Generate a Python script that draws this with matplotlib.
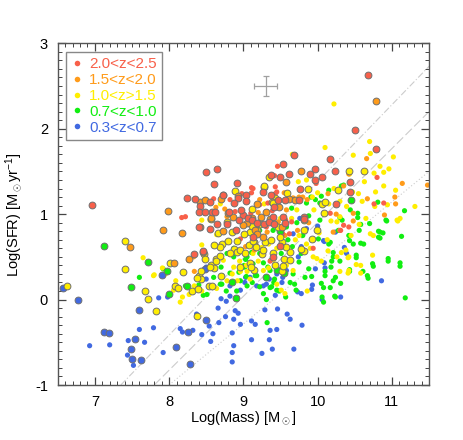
import matplotlib
matplotlib.use("Agg")
import matplotlib.pyplot as plt
from matplotlib.ticker import MultipleLocator
from matplotlib.lines import Line2D

plt.rcParams["font.family"] = ["Liberation Sans", "DejaVu Sans"]
plt.rcParams["mathtext.fontset"] = "custom"
plt.rcParams["mathtext.rm"] = "Liberation Sans"
plt.rcParams["mathtext.it"] = "Liberation Sans:italic"
plt.rcParams["axes.unicode_minus"] = False

# (log mass, log SFR); "ring" = points drawn with a grey outline
red_ring = [(6.96, 1.11), (10.68, 2.63), (10.51, 1.98), (10.78, 1.76), (8.50, 1.49), (8.64, 1.53),
            (8.60, 1.35), (8.91, 1.36), (9.04, 1.23), (9.04, 1.15), (8.58, 1.03), (8.35, 1.18),
            (8.24, 1.19), (8.55, 1.14), (9.00, 0.99), (9.37, 1.46), (9.54, 1.59), (9.61, 1.47),
            (9.37, 1.23), (9.49, 1.43), (9.96, 1.53), (9.90, 1.47), (9.96, 1.40), (10.06, 1.44),
            (10.24, 1.51), (8.41, 1.09), (8.73, 1.22), (8.93, 1.19), (8.87, 1.13), (8.97, 1.05),
            (8.40, 1.02), (8.49, 1.02), (8.62, 1.03), (8.81, 1.02), (8.94, 0.93), (9.06, 0.95),
            (9.12, 0.93), (8.40, 0.85), (8.55, 0.83), (8.65, 0.88), (8.78, 0.89), (8.90, 0.81),
            (9.27, 1.26), (9.47, 1.16), (9.56, 1.16), (9.41, 1.08), (9.53, 0.97), (9.40, 0.97),
            (9.56, 0.90), (9.76, 1.29), (9.75, 1.16), (9.82, 0.97), (9.81, 0.94), (10.43, 1.38),
            (10.44, 1.26), (10.25, 1.12), (8.34, 0.53), (8.45, 0.57), (9.13, 0.73), (9.40, 0.50),
            (9.68, 1.69), (9.18, 0.90), (9.28, 0.89), (9.35, 0.91), (9.41, 0.88), (9.50, 0.63),
            (10.16, 1.65)]
red_dot = [(8.17, 0.96), (8.22, 0.97), (9.13, 1.30), (9.42, 1.45), (9.46, 1.56), (9.43, 1.32),
           (9.43, 1.24), (9.11, 1.31), (9.11, 1.25), (8.82, 1.17), (8.48, 1.01), (8.60, 1.18),
           (8.89, 1.03), (9.45, 1.26), (9.39, 1.04), (9.22, 1.11), (9.33, 1.13), (9.05, 1.14),
           (8.98, 1.24), (9.10, 1.01), (9.65, 0.91), (9.62, 0.77), (9.94, 0.60), (10.80, 1.43),
           (10.76, 1.12), (10.89, 1.13), (10.31, 0.81), (10.42, 0.85), (10.35, 0.87), (9.31, 0.85),
           (9.53, 0.77), (9.98, 1.36), (10.09, 1.01), (10.17, 1.01), (8.96, 0.71), (9.09, 0.90),
           (9.36, 0.45), (9.57, 0.93)]

orange_ring = [(10.78, 2.33), (7.92, 0.82), (7.98, 1.04), (8.17, 0.78), (7.47, 0.61), (8.46, 0.56),
               (9.77, 1.51), (9.58, 1.38), (8.41, 1.14), (8.49, 1.16), (8.73, 1.23), (8.70, 1.18),
               (8.93, 1.21), (8.80, 1.01), (8.56, 0.96), (8.41, 0.85), (9.18, 1.12), (9.36, 0.94),
               (9.24, 0.97), (9.11, 0.96), (9.05, 0.90), (9.16, 0.82), (9.19, 0.77), (9.26, 0.73),
               (9.52, 0.85), (8.27, 0.47), (8.06, 0.43), (8.72, 0.80), (9.48, 1.08), (9.62, 1.18),
               (9.70, 1.17), (9.30, 1.02), (9.00, 0.87), (8.86, 0.97)]
orange_dot = [(10.66, 1.65), (10.67, 1.18), (11.04, 1.20), (11.05, 1.12), (11.14, 1.36), (11.48, 1.34),
              (10.90, 0.99), (10.21, 0.79), (10.48, 1.01), (10.30, 0.81), (10.48, 0.92), (8.75, 1.06),
              (8.63, 1.08), (8.98, 1.03), (9.22, 1.17), (9.48, 1.17), (9.55, 1.25), (9.47, 0.91),
              (9.32, 0.79), (9.56, 0.75), (8.34, 0.33), (8.33, 0.50), (9.73, 0.81), (9.67, 1.19),
              (9.80, 1.20), (9.86, 1.17), (9.75, 1.20), (10.42, 1.47), (10.35, 1.33), (8.26, 0.46),
              (9.03, 0.62), (9.15, 0.58), (9.20, 1.02), (8.78, 0.97), (9.58, 1.05), (9.88, 0.90),
              (10.14, 1.24), (10.25, 1.00)]

yellow_ring = [(6.63, 0.16), (7.40, 0.69), (7.40, 0.36), (7.67, 0.10), (7.71, 0.01), (7.83, -0.13),
               (8.01, 0.43), (8.19, 0.32), (8.08, 0.16), (8.12, 0.14), (8.31, 0.10), (8.39, 0.12),
               (8.54, 0.16), (8.37, -0.19), (8.40, 0.28), (8.43, 0.24), (8.43, 0.33), (8.47, 0.53),
               (8.49, 0.47), (8.56, 0.41), (8.61, 0.37), (8.63, 0.47), (8.68, 0.51), (8.66, 0.78),
               (8.71, 0.65), (8.68, 0.62), (8.80, 0.69), (8.85, 0.79), (8.87, 0.59), (8.91, 0.56),
               (9.09, 0.79), (9.14, 0.67), (9.25, 0.53), (9.09, 0.43), (9.14, 0.35), (9.52, 0.67),
               (9.52, 0.34), (8.89, 1.27), (8.56, 0.94), (9.11, 1.06), (9.28, 1.32), (9.35, 1.44),
               (9.42, 1.19), (9.59, 1.25), (9.38, 1.14), (9.99, 0.81), (9.92, 0.71), (9.81, 0.57),
               (9.77, 0.59), (10.06, 1.12), (10.08, 1.01), (10.10, 1.14), (10.27, 1.28), (10.42, 1.50),
               (10.62, 1.51), (9.28, 1.33), (8.96, 0.58), (9.02, 0.55), (9.08, 0.64), (9.13, 0.69),
               (9.17, 0.62), (8.96, 0.38), (9.10, 0.38), (9.29, 0.67), (9.37, 0.70), (9.49, 0.73),
               (9.63, 0.56), (9.58, 0.62), (9.55, 0.48), (9.63, 0.46), (9.53, 0.39), (9.40, 0.54),
               (9.27, 0.58), (9.47, 0.85), (9.81, 0.93), (9.81, 0.81), (9.18, 0.81), (9.23, 0.89),
               (9.11, 0.86), (9.01, 0.77), (8.78, 0.91), (8.58, 0.16), (8.70, 0.28), (8.55, 0.38),
               (8.63, 0.45), (8.82, 0.54), (9.40, 1.13), (9.87, 1.30), (9.42, 0.41), (8.92, 0.69),
               (8.60, 0.64), (8.38, 0.25)]
yellow_dot = [(7.65, 0.49), (7.80, 0.29), (7.91, 0.37), (7.79, 0.28), (7.95, 0.30), (8.09, 0.22),
              (8.06, 0.11), (8.15, -0.03), (8.18, 0.03), (8.27, 0.06), (8.34, 0.16), (8.44, 0.64),
              (8.44, 0.93), (8.55, 0.93), (8.64, 0.13), (8.44, 0.10), (8.69, 1.12), (8.64, 0.76),
              (8.73, 0.46), (8.77, 0.67), (8.78, 0.22), (8.92, 0.22), (9.05, 0.33), (9.09, 0.24),
              (9.16, 0.61), (9.25, 0.61), (9.34, 0.65), (9.34, 0.37), (9.41, 0.47), (9.58, 0.40),
              (8.87, 0.38), (8.96, 0.33), (9.04, 0.40), (9.13, 0.54), (9.27, 0.34), (9.31, 0.26),
              (9.45, 0.18), (9.51, 0.11), (9.56, 0.07), (9.67, 0.34), (9.74, 1.38), (9.94, 0.50),
              (9.99, 0.48), (10.10, 1.78), (10.22, 2.29), (10.30, 0.97), (10.39, 1.09), (10.26, 0.91),
              (10.56, 0.88), (10.45, 0.75), (10.32, 0.55), (10.26, 0.50), (10.30, 0.33), (10.41, 0.49),
              (10.52, 0.41), (10.41, 0.31), (10.58, 0.31), (10.75, 0.75), (11.08, 0.92), (10.48, 1.69),
              (10.55, 1.24), (10.63, 1.38), (10.70, 1.85), (10.71, 1.71), (10.76, 1.48), (10.78, 1.26),
              (10.84, 1.56), (10.89, 1.49), (10.96, 1.53), (11.02, 1.67), (11.05, 1.28), (11.07, 0.93),
              (11.11, 0.95), (11.31, 1.09), (10.89, 1.33), (10.77, 1.09), (10.71, 0.77), (10.58, 0.40),
              (10.74, 0.52), (10.42, 0.34), (10.38, 0.58), (10.42, 0.50), (10.43, 1.47), (10.94, 1.11),
              (9.28, 1.12), (9.70, 0.70), (9.75, 0.75), (9.85, 0.65), (9.90, 0.60), (10.02, 0.78),
              (10.13, 0.70), (10.18, 0.92), (9.95, 1.05), (9.65, 0.95), (9.72, 1.05), (9.60, 0.60),
              (9.45, 0.60), (8.95, 0.45), (8.85, 0.30), (9.20, 0.45), (10.00, 1.25), (10.15, 1.12),
              (9.93, 1.20), (10.47, 1.26), (10.60, 1.15), (10.65, 0.95), (10.30, 1.15), (9.66, 1.70),
              (9.50, 0.95), (9.85, 1.40), (10.05, 0.45), (10.14, 0.57), (10.22, 1.30), (9.86, 0.10)]

green_ring = [(7.13, 0.63), (7.49, 0.15), (7.71, 0.44), (8.00, 0.07), (7.97, 0.34), (8.24, 0.16),
              (8.90, 0.02), (8.85, 0.20), (9.30, 0.26), (9.45, 0.35), (9.55, 0.31), (10.45, 1.16),
              (9.50, 0.80)]
green_dot = [(7.60, 0.26), (7.92, 0.36), (8.22, 0.16), (8.40, 0.17), (8.46, 0.05), (8.51, 0.06),
             (8.60, 0.26), (8.70, 0.38), (8.69, 0.18), (8.82, 0.31), (8.87, 0.50), (8.96, 0.22),
             (9.04, 0.27), (9.05, 0.50), (9.12, 0.20), (9.18, 0.28), (9.22, 0.15), (9.27, 0.07),
             (9.31, 0.00), (9.36, 0.34), (9.37, 0.46), (9.38, 0.15), (9.42, 0.24), (9.45, 0.11),
             (9.49, 0.34), (9.51, 0.54), (9.57, 0.03), (9.63, 0.20), (9.67, 0.30), (9.69, 0.18),
             (9.71, 0.11), (9.75, 0.44), (9.78, 0.54), (9.83, 0.26), (9.88, 0.36), (9.92, 0.27),
             (9.94, 0.70), (10.01, 0.71), (10.03, 0.93), (10.05, 0.19), (10.08, -0.03), (10.10, 0.33),
             (10.15, 0.65), (10.18, 0.38), (10.21, 0.50), (10.23, 0.04), (10.24, 0.26), (10.28, 0.81),
             (10.30, 0.45), (10.31, 0.19), (10.33, 0.93), (10.35, 1.34), (10.43, 0.35), (10.42, 0.75),
             (10.44, 1.05), (10.52, 0.52), (10.56, 0.81), (10.58, 0.88), (10.61, 0.33), (10.62, 0.65),
             (10.67, 0.28), (10.74, 0.42), (10.81, 1.14), (10.82, 0.80), (10.88, 0.78), (10.82, 0.73),
             (10.92, 0.93), (10.95, 0.48), (11.13, 0.74), (11.11, 0.43), (11.17, 1.04), (11.18, 0.02),
             (10.48, 0.65), (10.54, 1.01), (9.97, 1.17), (10.03, 1.13), (9.85, 1.13), (9.91, 1.20),
             (9.65, 1.07), (9.58, 0.85), (9.40, 0.81), (9.22, 0.81), (8.87, 0.60), (9.13, 0.42),
             (9.02, 0.38), (8.78, 0.54), (9.22, 0.54), (9.33, 0.38), (9.32, -0.27), (10.05, 1.21),
             (10.15, 1.28), (10.32, 1.33), (9.11, 0.55), (9.03, 0.47), (9.01, 0.40), (9.27, 0.43),
             (8.71, 0.28), (8.71, 0.18), (8.94, 0.32), (8.91, 0.10), (9.16, 0.28), (9.36, 0.14),
             (9.41, 0.20), (9.48, 0.10), (8.77, 0.10), (9.05, 0.16), (10.17, 0.67), (10.30, 0.96),
             (10.54, 0.96), (10.43, 0.69), (10.58, 0.66), (10.21, 0.55), (10.19, 0.45), (10.52, 0.49),
             (10.43, 0.33), (10.84, 0.79), (10.84, 0.72), (10.70, 0.89), (10.93, 0.92), (10.95, 0.45),
             (11.11, 0.39), (10.75, 0.39), (10.68, 0.25), (10.10, 0.28), (10.21, 0.22), (10.17, 0.14),
             (10.08, 0.14), (9.60, 0.70), (9.72, 0.90), (9.88, 0.98), (9.66, 0.62), (9.80, 0.75),
             (10.06, 0.03), (10.24, 0.03)]

blue_ring = [(6.57, 0.14), (6.77, -0.01), (7.13, -0.38), (7.19, -0.39), (7.60, -0.12), (7.49, -0.58),
             (7.54, -0.46), (7.50, -0.70), (7.62, -0.71), (8.09, -0.56), (8.25, -0.38), (8.28, -0.75),
             (8.50, -0.24), (7.91, 0.29), (8.48, 0.36)]
blue_dot = [(6.93, -0.54), (7.20, -0.53), (7.45, -0.48), (7.44, -0.65), (7.52, -0.77), (7.60, -0.35),
            (7.67, -0.50), (7.79, -0.33), (7.92, -0.62), (7.98, 0.03), (7.86, 0.02), (8.15, -0.34),
            (8.18, -0.38), (8.32, -0.36), (8.37, -0.17), (8.44, -0.41), (8.54, -0.31), (8.56, -0.49),
            (8.59, -0.40), (8.67, -0.27), (8.66, -0.10), (8.77, -0.02), (8.76, -0.20), (8.85, -0.39),
            (8.87, -0.54), (8.85, -0.62), (8.85, -0.73), (8.87, -0.23), (8.89, -0.13), (8.93, -0.16),
            (8.96, -0.29), (9.11, -0.25), (9.11, -0.47), (9.16, -0.29), (9.25, -0.63), (9.29, -0.12),
            (9.35, -0.47), (9.36, -0.36), (9.39, -0.58), (9.43, 0.05), (9.46, -0.11), (9.45, -0.35),
            (9.59, -0.17), (9.63, -0.23), (9.68, -0.58), (9.79, -0.30), (9.78, 0.07), (9.73, 0.09),
            (9.93, 0.17), (10.06, 0.00), (10.09, 0.68), (10.09, 0.43), (10.31, 0.03), (10.86, 0.22),
            (9.09, 0.26), (9.18, 0.16), (8.96, 0.11), (9.02, 0.20), (8.82, 0.04), (8.60, 0.15),
            (9.53, 0.26), (9.56, 0.38), (9.35, 0.24), (9.58, 0.34), (9.74, 0.50), (9.78, 0.62),
            (10.24, 0.79), (10.39, 0.54), (9.76, 0.95), (9.85, 0.83), (9.67, 0.77), (9.31, 0.18),
            (8.50, 0.38), (8.82, 0.16), (10.00, 0.86), (8.70, 0.01), (8.50, 0.24), (9.03, 0.26),
            (9.27, 0.16), (9.52, 0.20), (9.92, 0.12), (9.97, 0.36), (10.10, 0.37), (10.36, 0.61),
            (10.08, 0.69), (9.45, 0.30)]

labels = ["2.0<z<2.5", "1.5<z<2.0", "1.0<z>1.5", "0.7<z<1.0", "0.3<z<0.7"]
colors = ["#f8604a", "#ff9b1a", "#ffee00", "#11ee11", "#4169e1"]

# reference relations (grey diagonal lines), end points in data units
rel_x = [7.35, 11.5]
rel_dashdot = [-1.0, 2.73]
rel_dash_x = [7.8, 11.5]
rel_dash = [-1.0, 2.2]
rel_dot_x = [8.0, 11.5]
rel_dot = [-1.0, 1.5]

# typical error bar
err_x, err_y, err_dx, err_dy = 9.3, 2.5, 0.15, 0.12

fig = plt.figure(figsize=(4.63, 4.40), dpi=100)
ax = fig.add_axes([0.1246, 0.125, 0.802, 0.7766])

ax.plot(rel_x, rel_dashdot, color="#cccccc", lw=0.8, ls=(0, (6, 2, 1, 2)), zorder=1)
ax.plot(rel_dash_x, rel_dash, color="#cccccc", lw=0.8, ls=(0, (8, 3)), zorder=1)
ax.plot(rel_dot_x, rel_dot, color="#cccccc", lw=0.8, ls=(0, (1, 2)), zorder=1)

groups = [(blue_dot, blue_ring, colors[4]), (green_dot, green_ring, colors[3]),
          (yellow_dot, yellow_ring, colors[2]), (orange_dot, orange_ring, colors[1]),
          (red_dot, red_ring, colors[0])]
for dots, rings, c in groups:
    x, y = zip(*dots)
    ax.scatter(x, y, s=14, color=c, edgecolors="none", zorder=2)
for dots, rings, c in groups:
    x, y = zip(*rings)
    ax.scatter(x, y, s=24, color=c, edgecolors="#707070", linewidths=0.7, zorder=3)

ax.errorbar(err_x, err_y, xerr=err_dx, yerr=err_dy, color="#a0a0a0", lw=0.9,
            capsize=2, capthick=0.9, zorder=4)

ax.set_xlim(6.5, 11.5)
ax.set_ylim(-1, 3)
ax.xaxis.set_major_locator(MultipleLocator(1))
ax.xaxis.set_minor_locator(MultipleLocator(0.1))
ax.yaxis.set_major_locator(MultipleLocator(1))
ax.yaxis.set_minor_locator(MultipleLocator(0.1))
ax.tick_params(which="both", direction="in", top=True, right=True, color="#444444",
               labelsize=10.5, pad=7)
ax.tick_params(which="major", length=6, width=0.9)
ax.tick_params(which="minor", length=3, width=0.7)
for sp in ax.spines.values():
    sp.set_color("#555555")
    sp.set_linewidth(1.0)

ax.set_xlabel(r"Log(Mass) [M$_\odot$]", fontsize=10.5, labelpad=1)
ax.set_ylabel(r"Log(SFR) [M$_\odot$yr$^{-1}$]", fontsize=10.5, labelpad=8)

handles = [Line2D([], [], ls="none", marker="o", ms=4, mfc=c, mec="none") for c in colors]
leg = ax.legend(handles, labels, loc="upper left", bbox_to_anchor=(0.0215, 0.975),
                borderaxespad=0, fancybox=False, fontsize=11, handlelength=0.8,
                handletextpad=0.4, labelspacing=0.12, borderpad=0.35,
                labelcolor=colors, framealpha=1)
leg.get_frame().set_edgecolor("#888888")
leg.get_frame().set_linewidth(1.0)

fig.savefig("out.png", dpi=100)
